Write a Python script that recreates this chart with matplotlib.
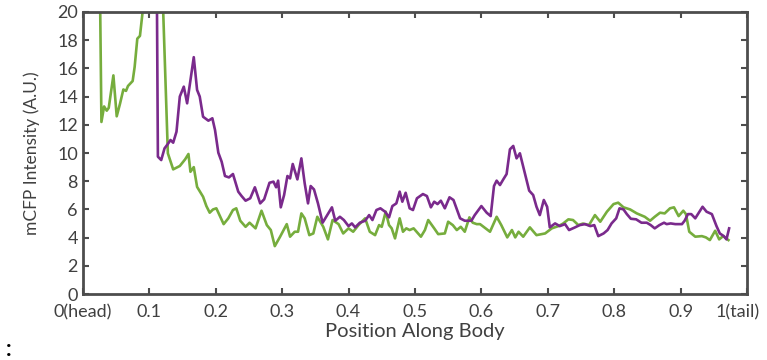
import matplotlib
matplotlib.use('Agg')
import matplotlib.pyplot as plt
from matplotlib.transforms import ScaledTranslation

# posicion a lo largo del cuerpo y la intensidad
x_verde = [0.025, 0.028, 0.032, 0.036, 0.039, 0.046, 0.051, 0.056, 0.061, 0.065, 0.068, 0.075, 0.078,
           0.082, 0.086, 0.090, 0.095, 0.119, 0.121, 0.128, 0.136, 0.146, 0.154, 0.159, 0.162, 0.167,
           0.172, 0.181, 0.186, 0.191, 0.196, 0.201, 0.212, 0.219, 0.226, 0.231, 0.237, 0.245, 0.251,
           0.260, 0.269, 0.277, 0.283, 0.289, 0.297, 0.307, 0.312, 0.319, 0.324, 0.329, 0.334, 0.341,
           0.347, 0.353, 0.362, 0.369, 0.376, 0.385, 0.392, 0.400, 0.407, 0.415, 0.425, 0.432, 0.440,
           0.446, 0.450, 0.456, 0.461, 0.465, 0.470, 0.477, 0.482, 0.487, 0.492, 0.498, 0.509, 0.515,
           0.520, 0.529, 0.535, 0.545, 0.550, 0.557, 0.563, 0.569, 0.575, 0.582, 0.587, 0.593, 0.598,
           0.613, 0.623, 0.630, 0.639, 0.646, 0.651, 0.656, 0.663, 0.673, 0.683, 0.696, 0.706, 0.716,
           0.723, 0.731, 0.738, 0.746, 0.753, 0.762, 0.771, 0.779, 0.789, 0.799, 0.806, 0.814, 0.824,
           0.834, 0.846, 0.854, 0.861, 0.869, 0.876, 0.884, 0.890, 0.897, 0.904, 0.908, 0.913, 0.922,
           0.932, 0.938, 0.944, 0.952, 0.958, 0.964, 0.972]
y_verde = [25.0, 12.2, 13.3, 13.0, 13.2, 15.5, 12.6, 13.5, 14.5, 14.4, 14.75, 15.1, 16.1,
           18.1, 18.3, 20.0, 25.0, 25.0, 20.0, 9.98, 8.84, 9.08, 9.55, 9.93, 8.67, 9.0,
           7.6, 6.9, 6.24, 5.77, 6.0, 6.08, 4.96, 5.37, 5.96, 6.08, 5.2, 4.77, 5.06,
           4.66, 5.91, 4.89, 4.54, 3.4, 4.07, 4.96, 4.07, 4.42, 4.42, 5.72, 5.37, 4.18,
           4.3, 5.48, 4.77, 3.88, 5.25, 4.96, 4.3, 4.66, 4.42, 4.89, 5.37, 4.42, 4.18,
           4.89, 4.77, 5.84, 4.89, 4.66, 3.95, 5.37, 4.42, 4.66, 4.54, 4.66, 4.07, 4.54,
           5.25, 4.66, 4.25, 4.3, 5.13, 4.89, 4.54, 4.77, 4.42, 5.44, 5.06, 4.96, 4.96,
           4.42, 5.48, 4.89, 4.02, 4.54, 4.02, 4.42, 4.07, 4.73, 4.18, 4.3, 4.66, 4.82,
           5.0, 5.3, 5.25, 4.89, 5.0, 4.89, 5.6, 5.13, 5.84, 6.38, 6.48, 6.15, 6.0,
           5.72, 5.48, 5.2, 5.48, 5.77, 5.72, 6.08, 6.15, 5.53, 5.91, 5.67, 4.42, 4.07,
           4.11, 4.02, 3.83, 4.49, 3.88, 4.11, 3.83]

x_morado = [0.111, 0.113, 0.118, 0.123, 0.128, 0.132, 0.136, 0.141, 0.146, 0.152, 0.157, 0.162, 0.167,
            0.172, 0.176, 0.181, 0.189, 0.195, 0.199, 0.204, 0.209, 0.214, 0.220, 0.226, 0.234, 0.239,
            0.245, 0.252, 0.259, 0.267, 0.273, 0.281, 0.287, 0.291, 0.294, 0.298, 0.303, 0.308, 0.312,
            0.316, 0.323, 0.329, 0.334, 0.339, 0.343, 0.348, 0.354, 0.361, 0.367, 0.375, 0.380, 0.387,
            0.393, 0.400, 0.405, 0.410, 0.417, 0.425, 0.431, 0.436, 0.442, 0.448, 0.455, 0.461, 0.466,
            0.472, 0.477, 0.481, 0.486, 0.492, 0.497, 0.503, 0.512, 0.518, 0.524, 0.529, 0.534, 0.539,
            0.545, 0.552, 0.558, 0.568, 0.575, 0.585, 0.590, 0.600, 0.608, 0.614, 0.619, 0.623, 0.628,
            0.633, 0.638, 0.643, 0.648, 0.653, 0.658, 0.663, 0.672, 0.678, 0.683, 0.688, 0.694, 0.699,
            0.703, 0.711, 0.718, 0.726, 0.732, 0.741, 0.748, 0.756, 0.764, 0.770, 0.776, 0.784, 0.790,
            0.796, 0.803, 0.808, 0.814, 0.819, 0.825, 0.833, 0.841, 0.849, 0.855, 0.861, 0.868, 0.875,
            0.879, 0.885, 0.892, 0.902, 0.906, 0.911, 0.916, 0.922, 0.926, 0.933, 0.939, 0.947, 0.954,
            0.959, 0.965, 0.969, 0.973]
y_morado = [25.0, 9.74, 9.5, 10.33, 10.64, 10.92, 10.73, 11.51, 14.0, 14.7, 13.52, 15.18, 16.79,
            14.47, 14.0, 12.57, 12.29, 12.46, 11.63, 10.02, 9.38, 8.37, 8.27, 8.51, 7.26, 6.95,
            6.62, 6.79, 7.57, 6.43, 6.72, 7.89, 7.97, 7.57, 8.04, 6.15, 7.02, 8.37, 8.2,
            9.22, 8.13, 9.62, 7.85, 6.43, 7.66, 7.42, 6.43, 5.06, 5.53, 6.15, 5.2, 5.48,
            5.25, 4.82, 5.01, 4.73, 5.06, 5.2, 5.6, 5.25, 5.96, 6.08, 5.84, 5.44, 6.24,
            6.43, 7.26, 6.55, 7.18, 6.08, 5.96, 6.79, 7.09, 6.95, 6.15, 6.55, 6.38, 6.62,
            6.08, 6.86, 6.67, 5.37, 5.2, 5.2, 5.6, 6.24, 5.77, 5.53, 7.66, 8.04, 7.73,
            8.13, 8.51, 10.26, 10.5, 9.62, 9.98, 9.03, 7.33, 7.02, 6.19, 5.6, 6.67, 6.19,
            4.73, 5.01, 4.82, 4.96, 4.54, 4.73, 4.89, 4.96, 4.82, 4.89, 4.11, 4.3, 4.54,
            5.01, 5.37, 6.08, 6.0, 5.67, 5.34, 5.3, 5.06, 5.06, 4.89, 4.66, 4.89, 5.06,
            4.96, 5.01, 4.96, 4.96, 5.2, 5.67, 5.67, 5.37, 5.67, 6.19, 5.84, 5.67, 4.82,
            4.3, 4.11, 3.88, 4.66]

xticks = [0, 0.1, 0.2, 0.3, 0.4, 0.5, 0.6, 0.7, 0.8, 0.9, 1.0]
xlabels = ['0(head)', '0.1', '0.2', '0.3', '0.4', '0.5', '0.6', '0.7', '0.8', '0.9', '1(tail)']
yticks = list(range(0, 21, 2))

plt.rcParams['font.family'] = ['Lato', 'DejaVu Sans']
gris = '#404040'

fig = plt.figure(figsize=(7.67, 3.6), dpi=100)
ax = fig.add_axes([0.108, 0.183, 0.866, 0.784])

ax.plot(x_verde, y_verde, color='#76ad3d', lw=1.9, solid_joinstyle='round')
ax.plot(x_morado, y_morado, color='#7a2a8c', lw=1.9, solid_joinstyle='round')

ax.set_xlim(0, 1)
ax.set_ylim(0, 20)
ax.set_xticks(xticks)
ax.set_xticklabels(xlabels)
ax.set_yticks(yticks)
ax.tick_params(direction='in', length=4, width=1.5, color='#4d4d4d', labelcolor=gris,
               labelsize=13, top=True, right=True)
ax.tick_params(axis='x', pad=7)
ax.tick_params(axis='y', pad=3.5)
for s in ax.spines.values():
    s.set_color('#4d4d4d')
    s.set_linewidth(2)

# correr "1(tail)" un poco a la izquierda para que quepa
ultima = ax.get_xticklabels()[-1]
ultima.set_transform(ultima.get_transform() + ScaledTranslation(-0.09, 0, fig.dpi_scale_trans))

ax.set_xlabel('Position Along Body', fontsize=14.5, color=gris, labelpad=2)
ax.set_ylabel('mCFP Intensity (A.U.)', fontsize=12.5, color=gris, labelpad=12)

# texto cortado en la esquina inferior
fig.text(0.008, 0.0, ':', fontsize=16, fontweight='bold', color='black', va='bottom')

fig.savefig('out.png', dpi=100)
